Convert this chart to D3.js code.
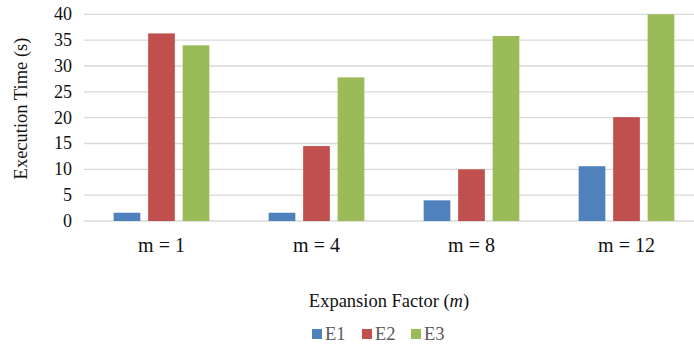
<!DOCTYPE html>
<html>
<head>
<meta charset="utf-8">
<script src="https://cdn.jsdelivr.net/npm/d3@7/dist/d3.min.js"></script>
<style>
  html, body { margin: 0; padding: 0; background: #fff; }
  svg { display: block; }
  text { font-family: "Liberation Serif", "Times New Roman", Times, "DejaVu Serif", serif; }
</style>
</head>
<body>
<svg id="chart" width="694" height="345"></svg>
<script>
// Execution time per experiment for each expansion factor
const categories = ["m = 1", "m = 4", "m = 8", "m = 12"];
const seriesNames = ["E1", "E2", "E3"];
const e1 = [1.6, 1.6, 4.0, 10.6];
const e2 = [36.3, 14.5, 10.0, 20.1];
const e3 = [34.0, 27.8, 35.8, 40.0];
const yTicks = [0, 5, 10, 15, 20, 25, 30, 35, 40];
const colors = ["#4F81BD", "#C0504D", "#9BBB59"];
const serif = "'Liberation Serif', 'Times New Roman', Times, 'DejaVu Serif', serif";

const values = [e1, e2, e3];
const rows = categories.map((c, i) => ({
  cat: c,
  vals: seriesNames.map((s, j) => ({ key: s, value: values[j][i] }))
}));

const svg = d3.select("#chart");

const plot = { left: 84, right: 704, top: 14.3, bottom: 221 };

const x0 = d3.scaleBand().domain(categories).range([plot.left, plot.right]).padding(0);
const x1 = d3.scaleBand().domain(seriesNames).range([0, x0.bandwidth()])
  .paddingInner(0.226).paddingOuter(0.86);
const y = d3.scaleLinear().domain([0, 40]).range([plot.bottom, plot.top]);

// Horizontal gridlines
svg.append("g")
  .selectAll("line")
  .data(yTicks)
  .join("line")
  .attr("x1", plot.left)
  .attr("x2", plot.right)
  .attr("y1", d => y(d))
  .attr("y2", d => y(d))
  .attr("stroke", "#d9d9d9")
  .attr("stroke-width", 1.3);

// Y tick labels
svg.append("g")
  .selectAll("text")
  .data(yTicks)
  .join("text")
  .attr("x", 72)
  .attr("y", d => y(d) + 6)
  .attr("text-anchor", "end")
  .attr("font-family", serif)
  .attr("font-size", 18)
  .attr("fill", "#111")
  .text(d => d);

// Bars
const groups = svg.append("g")
  .selectAll("g")
  .data(rows)
  .join("g")
  .attr("transform", d => `translate(${x0(d.cat)},0)`);

groups.selectAll("rect")
  .data(d => d.vals)
  .join("rect")
  .attr("x", d => x1(d.key))
  .attr("y", d => y(d.value))
  .attr("width", x1.bandwidth())
  .attr("height", d => y(0) - y(d.value))
  .attr("fill", (d, i) => colors[i]);

// Category labels
svg.append("g")
  .selectAll("text")
  .data(categories)
  .join("text")
  .attr("x", d => x0(d) + x0.bandwidth() / 2)
  .attr("y", 252)
  .attr("text-anchor", "middle")
  .attr("font-family", serif)
  .attr("font-size", 20)
  .attr("fill", "#111")
  .text(d => d);

// Axis titles
const xTitle = svg.append("text")
  .attr("x", 389)
  .attr("y", 307)
  .attr("text-anchor", "middle")
  .attr("font-family", serif)
  .attr("font-size", 18.5)
  .attr("fill", "#111");
xTitle.append("tspan").text("Expansion Factor (");
xTitle.append("tspan").attr("font-style", "italic").text("m");
xTitle.append("tspan").text(")");

svg.append("text")
  .attr("transform", "translate(27,108.5) rotate(-90)")
  .attr("text-anchor", "middle")
  .attr("font-family", serif)
  .attr("font-size", 18.5)
  .attr("fill", "#111")
  .text("Execution Time (s)");

// Legend
const legendX = [312, 362, 411];
const legend = svg.append("g")
  .selectAll("g")
  .data(seriesNames)
  .join("g")
  .attr("transform", (d, i) => `translate(${legendX[i]},329)`);

legend.append("rect")
  .attr("width", 10)
  .attr("height", 10)
  .attr("fill", (d, i) => colors[i]);

legend.append("text")
  .attr("x", 13)
  .attr("y", 11)
  .attr("font-family", serif)
  .attr("font-size", 18.5)
  .attr("fill", "#595959")
  .text(d => d);
</script>
</body>
</html>
